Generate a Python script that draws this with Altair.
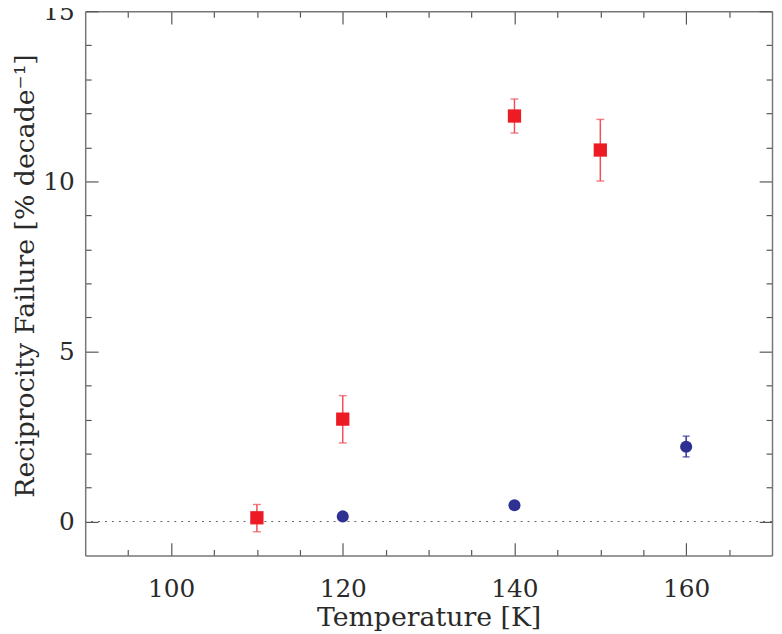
import altair as alt
import pandas as pd

# ---- data ----
red_T = [110, 120, 140, 150]
red_val = [0.11, 3.01, 11.92, 10.92]
red_lo = [-0.30, 2.31, 11.42, 10.01]
red_hi = [0.50, 3.70, 12.42, 11.82]

blue_T = [120, 140, 160]
blue_val = [0.15, 0.48, 2.20]
blue_lo = [0.10, 0.43, 1.90]
blue_hi = [0.20, 0.53, 2.51]

x_ticks = [95, 100, 105, 110, 115, 120, 125, 130, 135, 140, 145, 150, 155, 160, 165]
y_ticks = [0, 1, 2, 3, 4, 5, 6, 7, 8, 9, 10, 11, 12, 13, 14, 15]
zero_line = [0]

x_title = "Temperature [K]"
y_title = "Reciprocity Failure [% decade\u207b\u00b9]"

red_df = pd.DataFrame({"T": red_T, "v": red_val, "lo": red_lo, "hi": red_hi})
blue_df = pd.DataFrame({"T": blue_T, "v": blue_val, "lo": blue_lo, "hi": blue_hi})
zero_df = pd.DataFrame({"z": zero_line})

FONT = "DejaVu Serif"
RED = "#ED1C24"
RED_ERR = "#F0505A"
BLUE = "#2E3192"
TXT = "#2a2a2a"

xs = alt.Scale(domain=[90, 170], nice=False, zero=False)
ys = alt.Scale(domain=[-1, 15], nice=False, zero=False)

x_tick_size = {"condition": {"test": "datum.value % 20 === 0", "value": -13}, "value": -6}
y_tick_size = {"condition": {"test": "datum.value % 5 === 0", "value": -13}, "value": -6}

common = dict(
    grid=False,
    domainColor="#777777",
    domainWidth=1.5,
    tickColor="#555555",
    tickWidth=1.2,
    labelOverlap=False,
    labelFlush=False,
    labelBound=False,
)

x_main = alt.Axis(
    orient="bottom", values=x_ticks, tickSize=x_tick_size,
    labelExpr="datum.value % 20 === 0 ? datum.label : ''",
    labelFont=FONT, labelFontSize=25, labelColor=TXT,
    labelBaseline="middle", labelPadding=46,
    title=x_title, titleFont=FONT, titleFontSize=27, titleFontWeight="normal",
    titleColor=TXT, titleBaseline="middle", titleAlign="center",
    titleX=347, titleY=63,
    **common,
)
y_main = alt.Axis(
    orient="left", values=y_ticks, tickSize=y_tick_size,
    labelExpr="datum.value % 5 === 0 ? datum.label : ''",
    labelFont=FONT, labelFontSize=25, labelColor=TXT,
    labelBaseline="middle", labelPadding=24,
    title=y_title, titleFont=FONT, titleFontSize=27, titleFontWeight="normal",
    titleColor=TXT, titleBaseline="middle", titleAlign="center",
    titleAngle=270, titleX=-60, titleY=267,
    **common,
)
x_mirror = alt.Axis(orient="top", values=x_ticks, tickSize=x_tick_size,
                    labels=False, title=None, **common)
y_mirror = alt.Axis(orient="right", values=y_ticks, tickSize=y_tick_size,
                    labels=False, title=None, **common)

zero = alt.Chart(zero_df).mark_rule(color="#666666", strokeDash=[2, 5], strokeWidth=1.2).encode(
    y=alt.Y("z:Q", scale=ys, axis=None)
)

def err_layers(df, color, cap):
    base = alt.Chart(df)
    bars = base.mark_rule(color=color, strokeWidth=1.5).encode(
        x=alt.X("T:Q", scale=xs, axis=None),
        y=alt.Y("lo:Q", scale=ys, axis=None),
        y2="hi:Q",
    )
    cap_lo = base.mark_tick(color=color, orient="horizontal", size=cap, thickness=1.5).encode(
        x=alt.X("T:Q", scale=xs, axis=None),
        y=alt.Y("lo:Q", scale=ys, axis=None),
    )
    cap_hi = base.mark_tick(color=color, orient="horizontal", size=cap, thickness=1.5).encode(
        x=alt.X("T:Q", scale=xs, axis=None),
        y=alt.Y("hi:Q", scale=ys, axis=None),
    )
    return [bars, cap_lo, cap_hi]

red_pts = alt.Chart(red_df).mark_square(color=RED, size=180, opacity=1, filled=True).encode(
    x=alt.X("T:Q", scale=xs, axis=x_main),
    y=alt.Y("v:Q", scale=ys, axis=y_main),
)
blue_pts = alt.Chart(blue_df).mark_circle(color=BLUE, size=150, opacity=1).encode(
    x=alt.X("T:Q", scale=xs, axis=x_mirror),
    y=alt.Y("v:Q", scale=ys, axis=y_mirror),
)

layers = [zero] + err_layers(red_df, RED_ERR, 8) + err_layers(blue_df, BLUE, 7) + [red_pts, blue_pts]

chart = (
    alt.layer(*layers)
    .resolve_axis(x="independent", y="independent")
    .properties(
        width=694,
        height=550,
        autosize=alt.AutoSizeParams(type="none"),
        padding={"left": 78, "top": 0, "right": 2, "bottom": 76},
        background="white",
    )
    .configure_view(stroke=None)
)

chart.save("out.html", embed_options={"renderer": "svg", "actions": False})
